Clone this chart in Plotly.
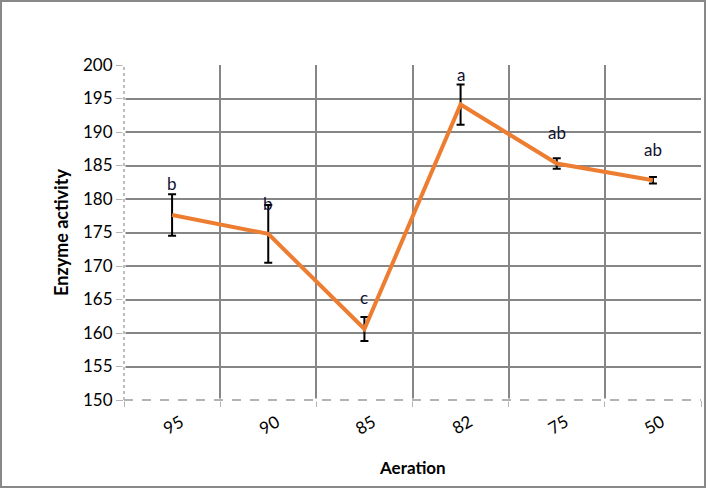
import plotly.graph_objects as go

aeration = ["95", "90", "85", "82", "75", "50"]
activity = [177.6, 174.8, 160.6, 194.1, 185.3, 182.8]
error = [3.1, 4.3, 1.8, 3.0, 0.8, 0.5]
letters = ["b", "b", "c", "a", "ab", "ab"]
letter_y = [181.8, 178.9, 164.8, 198.2, 189.5, 186.9]

FONT = "Lato, 'Open Sans', sans-serif"
GRID = "#868686"

fig = go.Figure()
fig.add_trace(go.Scatter(
    x=aeration, y=activity, mode="lines",
    line=dict(color="#ED7D31", width=4),
    error_y=dict(type="data", array=error, visible=True,
                 color="#000000", thickness=2, width=4),
    showlegend=False,
))

for i, (yv, t) in enumerate(zip(letter_y, letters)):
    fig.add_annotation(x=i, y=yv, text=t, showarrow=False,
                       xanchor="center", yanchor="middle", yshift=3,
                       font=dict(family=FONT, size=17, color="#101030"))

# category labels, rotated and centred under each category
for i, lab in enumerate(aeration):
    fig.add_annotation(x=i, y=0, xref="x", yref="paper", text=lab, showarrow=False,
                       textangle=-30, xanchor="center", yanchor="middle",
                       xshift=1, yshift=-24,
                       font=dict(family=FONT, size=17, color="#000"))

# x-axis title
fig.add_annotation(x=0.5, y=0, xref="paper", yref="paper", text="<b>Aeration</b>",
                   showarrow=False, xanchor="center", yanchor="middle", yshift=-67,
                   font=dict(family=FONT, size=17, color="#000"))

# left axis dotted line (over the boundary gridline)
fig.add_shape(type="line", xref="paper", yref="paper", x0=0, x1=0, y0=0, y1=1,
              line=dict(color="white", width=3), layer="above")
fig.add_shape(type="line", xref="paper", yref="paper", x0=0, x1=0, y0=0, y1=1,
              line=dict(color="#a8a8a8", width=1.5, dash="dot"), layer="above")
# bottom dashed line at 150
fig.add_shape(type="line", xref="paper", yref="paper", x0=0, x1=1, y0=0, y1=0,
              line=dict(color="white", width=3), layer="above")
fig.add_shape(type="line", xref="paper", yref="paper", x0=0, x1=1, y0=0, y1=0,
              line=dict(color="#9a9a9a", width=1.5, dash="dash"), layer="above")
# outer border
fig.add_shape(type="rect", xref="paper", yref="paper",
              x0=-123/577, x1=1 + 4/577, y0=-87/335, y1=1 + 64/335,
              line=dict(color="#888888", width=2), layer="above")

fig.update_layout(
    width=706, height=489,
    margin=dict(l=124, r=5, t=65, b=89),
    paper_bgcolor="white", plot_bgcolor="white",
    font=dict(family=FONT, size=17, color="#000000"),
    xaxis=dict(
        type="category", tickson="boundaries", range=[-0.5, 5.5],
        showgrid=True, gridcolor=GRID, gridwidth=2,
        ticks="outside", ticklen=6, tickcolor="#b5b5b5", tickwidth=1,
        showticklabels=False,
        showline=False, zeroline=False,
    ),
    yaxis=dict(
        range=[150, 200], dtick=5, tick0=150,
        showgrid=True, gridcolor=GRID, gridwidth=2,
        ticks="outside", ticklen=7, tickcolor="#b5b5b5", tickwidth=1,
        tickfont=dict(family=FONT, size=17, color="#000"),
        title=dict(text="<b>Enzyme activity</b>", font=dict(family=FONT, size=18), standoff=9),
        showline=False, zeroline=False,
    ),
)

fig.write_html("out.html", config={"displayModeBar": False},
               post_script="document.body.style.margin='0';document.body.style.overflow='hidden';")
